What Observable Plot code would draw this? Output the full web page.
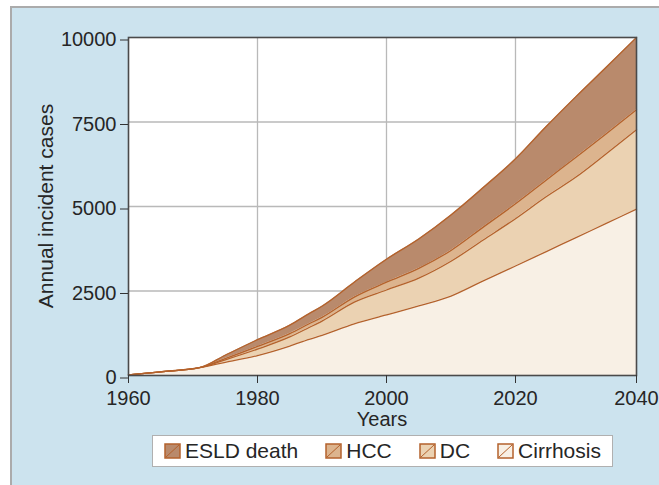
<!DOCTYPE html>
<html>
<head>
<meta charset="utf-8">
<script src="https://cdn.jsdelivr.net/npm/d3@7"></script>
<script src="https://cdn.jsdelivr.net/npm/@observablehq/plot@0.6"></script>
<style>
  html, body { margin: 0; padding: 0; background: #ffffff; overflow: hidden; width: 659px; height: 485px; }
  #bg { position: absolute; left: 10px; top: 6px; width: 647px; height: 477px; background: #cce3ee;
        border-left: 2px solid #ababab; border-top: 2px solid #ababab; }
  #chart { position: absolute; left: 0; top: 0; width: 659px; font-family: "Liberation Sans", Arial, sans-serif; }
  #legend { position: relative; margin-left: 152px; margin-top: 15px; width: 461px; height: 32px; box-sizing: border-box;
            background: #ffffff; border: 1.5px solid #b0b0b0; display: flex; align-items: center;
            padding-left: 11px; gap: 27px; font-size: 21px; color: #262626; }
  .item { display: flex; align-items: center; gap: 4px; }
  .item svg { display: block; }
</style>
</head>
<body>
<div id="bg"></div>
<div id="chart"></div>
<script>
// ---- data ----
const years      = [1960, 1965, 1971, 1975, 1980, 1985, 1988, 1990, 1995, 2000, 2005, 2010, 2015, 2020, 2025, 2030, 2035, 2040];
const cirrhosis  = [20, 110, 230, 390, 590, 870, 1070, 1190, 1530, 1790, 2060, 2350, 2800, 3240, 3660, 4080, 4500, 4920];
const dc         = [0, 0, 0, 75, 190, 270, 350, 420, 640, 740, 820, 1030, 1210, 1400, 1620, 1790, 2060, 2350];
const hcc        = [0, 0, 0, 35, 80, 100, 110, 110, 150, 230, 290, 320, 380, 440, 490, 590, 590, 590];
const esldDeath  = [0, 0, 0, 100, 200, 250, 300, 330, 440, 680, 870, 1050, 1170, 1330, 1580, 1790, 1970, 2140];

const seriesNames = ["Cirrhosis", "DC", "HCC", "ESLD death"];
const legendOrder = ["ESLD death", "HCC", "DC", "Cirrhosis"];
const fillColors  = ["#f8f0e5", "#ebd2b2", "#dcb48e", "#b98a6c"];
const lineColor   = "#b4622c";
const xTicks = [1960, 1980, 2000, 2020, 2040];
const yTicks = [0, 2500, 5000, 7500, 10000];

// tidy table for the library
const table = [];
[cirrhosis, dc, hcc, esldDeath].forEach((vals, i) =>
  years.forEach((yr, j) => table.push({year: yr, series: seriesNames[i], value: vals[j]})));

const font = "Liberation Sans, Arial, sans-serif";

const plot = Plot.plot({
  width: 659,
  height: 420,
  marginLeft: 128,
  marginRight: 23,
  marginTop: 37,
  marginBottom: 45,
  style: {background: "transparent", fontFamily: font, fontSize: "20px", color: "#262626", overflow: "visible"},
  x: {type: "linear", domain: [1960, 2020, 2040], range: [128, 515, 636]},
  y: {type: "linear", domain: [0, 10000]},
  color: {domain: seriesNames, range: fillColors},
  marks: [
    Plot.frame({fill: "white", stroke: null}),
    Plot.gridX(xTicks.slice(1, -1), {stroke: "#b9b9b9", strokeOpacity: 1, strokeWidth: 1.3}),
    Plot.gridY(yTicks.slice(1, -1), {stroke: "#b9b9b9", strokeOpacity: 1, strokeWidth: 1.3}),
    Plot.areaY(table, Plot.stackY({x: "year", y: "value", z: "series", fill: "series", curve: "monotone-x"})),
    Plot.lineY(table, Plot.stackY2({x: "year", y: "value", z: "series", stroke: lineColor, strokeWidth: 1.3, curve: "monotone-x"})),
    Plot.frame({stroke: "#4a4a4a", strokeWidth: 1.6}),
    Plot.axisY(yTicks, {tickSize: 8, tickPadding: 4, fontSize: 20, dy: 2.5, tickFormat: d => String(d), stroke: "#333", fill: "#262626", label: null}),
    Plot.axisX(xTicks, {tickSize: 8, tickPadding: 7, fontSize: 20, tickFormat: d => String(d), stroke: "#333", fill: "#262626", label: null})
  ]
});

const svg = d3.select(plot);
svg.append("text")
  .attr("transform", "translate(53,206) rotate(-90)")
  .attr("text-anchor", "middle")
  .attr("font-family", font).attr("font-size", 21).attr("fill", "#262626")
  .text("Annual incident cases");
svg.append("text")
  .attr("x", 382).attr("y", 426)
  .attr("text-anchor", "middle")
  .attr("font-family", font).attr("font-size", 20).attr("fill", "#262626")
  .text("Years");

const chart = document.getElementById("chart");
chart.appendChild(plot);

// legend
const legend = document.createElement("div");
legend.id = "legend";
legendOrder.forEach(name => {
  const fill = fillColors[seriesNames.indexOf(name)];
  const item = document.createElement("div");
  item.className = "item";
  item.innerHTML =
    `<svg width="17" height="16"><rect x="1" y="1" width="15" height="14" fill="${fill}" stroke="${lineColor}" stroke-width="1.5"/>` +
    `<line x1="2" y1="14" x2="15" y2="2" stroke="${lineColor}" stroke-width="1"/></svg><span>${name}</span>`;
  legend.appendChild(item);
});
chart.appendChild(legend);
</script>
</body>
</html>
